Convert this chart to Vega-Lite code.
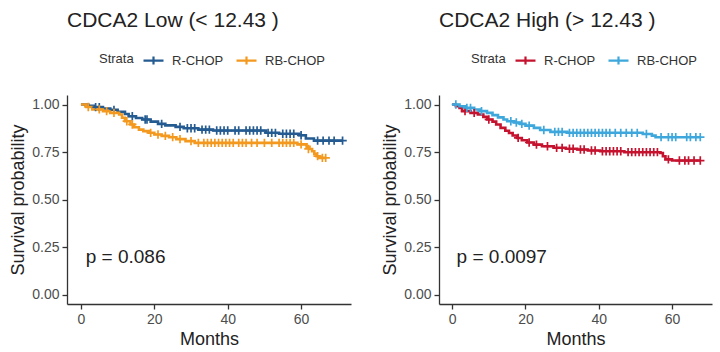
{
  "$schema": "https://vega.github.io/schema/vega-lite/v6.json",
  "padding": {"left": 9, "top": 10, "right": 2, "bottom": 0},
  "background": "white",
  "config": {
    "view": {"stroke": null},
    "font": "Liberation Sans",
    "axis": {"domainColor": "#333333", "domainWidth": 1.3, "tickColor": "#333333", "tickWidth": 1.3, "tickSize": 5, "labelFontSize": 14, "labelColor": "#4d4d4d", "titleFontSize": 18, "titleFontWeight": "normal", "titleColor": "#222222", "grid": false, "labelPadding": 3, "titlePadding": 4},
    "title": {"fontSize": 21, "fontWeight": "normal", "anchor": "start", "frame": "group", "color": "#222222"},
    "concat": {"spacing": 30},
    "legend": {"orient": "none", "direction": "horizontal", "titleOrient": "left", "titleFontSize": 13, "titleFontWeight": "normal", "titleColor": "#333333", "labelFontSize": 13, "labelColor": "#333333", "symbolType": "M-1,0H1M0,-0.4V0.4", "symbolSize": 400, "symbolStrokeWidth": 2.2, "symbolFillColor": "transparent", "labelOffset": 7, "columnPadding": 8, "titlePadding": 8, "legendX": 32, "legendY": -46}
  },
  "datasets": {
    "low": [
      {"g":"R-CHOP","t":0,"s":1.0,"c":0},{"g":"R-CHOP","t":2,"s":0.993,"c":0},{"g":"R-CHOP","t":3.5,"s":0.986,"c":0},{"g":"R-CHOP","t":6,"s":0.979,"c":0},{"g":"R-CHOP","t":8,"s":0.972,"c":0},{"g":"R-CHOP","t":10,"s":0.961,"c":0},{"g":"R-CHOP","t":12,"s":0.95,"c":0},{"g":"R-CHOP","t":13,"s":0.938,"c":0},{"g":"R-CHOP","t":15,"s":0.929,"c":0},{"g":"R-CHOP","t":16.7,"s":0.921,"c":0},{"g":"R-CHOP","t":19,"s":0.91,"c":0},{"g":"R-CHOP","t":21,"s":0.898,"c":0},{"g":"R-CHOP","t":23,"s":0.89,"c":0},{"g":"R-CHOP","t":25.8,"s":0.882,"c":0},{"g":"R-CHOP","t":28,"s":0.875,"c":0},{"g":"R-CHOP","t":32,"s":0.868,"c":0},{"g":"R-CHOP","t":36,"s":0.863,"c":0},{"g":"R-CHOP","t":50.4,"s":0.851,"c":0},{"g":"R-CHOP","t":54,"s":0.846,"c":0},{"g":"R-CHOP","t":59.5,"s":0.838,"c":0},{"g":"R-CHOP","t":61.3,"s":0.821,"c":0},{"g":"R-CHOP","t":63.5,"s":0.81,"c":0},{"g":"R-CHOP","t":71.3,"s":0.81,"c":0},
      {"g":"R-CHOP","t":4,"s":0.986,"c":1},{"g":"R-CHOP","t":5,"s":0.986,"c":1},{"g":"R-CHOP","t":9,"s":0.972,"c":1},{"g":"R-CHOP","t":14,"s":0.938,"c":1},{"g":"R-CHOP","t":17.5,"s":0.921,"c":1},{"g":"R-CHOP","t":18,"s":0.921,"c":1},{"g":"R-CHOP","t":22,"s":0.898,"c":1},{"g":"R-CHOP","t":27,"s":0.882,"c":1},{"g":"R-CHOP","t":29,"s":0.875,"c":1},{"g":"R-CHOP","t":30,"s":0.875,"c":1},{"g":"R-CHOP","t":31,"s":0.875,"c":1},{"g":"R-CHOP","t":33,"s":0.868,"c":1},{"g":"R-CHOP","t":34,"s":0.868,"c":1},{"g":"R-CHOP","t":35,"s":0.868,"c":1},{"g":"R-CHOP","t":37,"s":0.863,"c":1},{"g":"R-CHOP","t":38,"s":0.863,"c":1},{"g":"R-CHOP","t":39,"s":0.863,"c":1},{"g":"R-CHOP","t":40,"s":0.863,"c":1},{"g":"R-CHOP","t":42,"s":0.863,"c":1},{"g":"R-CHOP","t":43,"s":0.863,"c":1},{"g":"R-CHOP","t":45,"s":0.863,"c":1},{"g":"R-CHOP","t":46,"s":0.863,"c":1},{"g":"R-CHOP","t":47,"s":0.863,"c":1},{"g":"R-CHOP","t":48,"s":0.863,"c":1},{"g":"R-CHOP","t":49,"s":0.863,"c":1},{"g":"R-CHOP","t":51,"s":0.851,"c":1},{"g":"R-CHOP","t":52,"s":0.851,"c":1},{"g":"R-CHOP","t":53,"s":0.851,"c":1},{"g":"R-CHOP","t":55,"s":0.846,"c":1},{"g":"R-CHOP","t":56,"s":0.846,"c":1},{"g":"R-CHOP","t":57,"s":0.846,"c":1},{"g":"R-CHOP","t":58,"s":0.846,"c":1},{"g":"R-CHOP","t":60,"s":0.838,"c":1},{"g":"R-CHOP","t":64.5,"s":0.81,"c":1},{"g":"R-CHOP","t":66,"s":0.81,"c":1},{"g":"R-CHOP","t":67.6,"s":0.81,"c":1},{"g":"R-CHOP","t":69,"s":0.81,"c":1},{"g":"R-CHOP","t":71.3,"s":0.81,"c":1},
      {"g":"RB-CHOP","t":0,"s":1.0,"c":0},{"g":"RB-CHOP","t":1.5,"s":0.987,"c":0},{"g":"RB-CHOP","t":3.1,"s":0.974,"c":0},{"g":"RB-CHOP","t":6,"s":0.965,"c":0},{"g":"RB-CHOP","t":8,"s":0.956,"c":0},{"g":"RB-CHOP","t":10.4,"s":0.947,"c":0},{"g":"RB-CHOP","t":11.2,"s":0.93,"c":0},{"g":"RB-CHOP","t":12,"s":0.912,"c":0},{"g":"RB-CHOP","t":13.5,"s":0.895,"c":0},{"g":"RB-CHOP","t":14.5,"s":0.88,"c":0},{"g":"RB-CHOP","t":15.8,"s":0.868,"c":0},{"g":"RB-CHOP","t":17,"s":0.86,"c":0},{"g":"RB-CHOP","t":18.5,"s":0.851,"c":0},{"g":"RB-CHOP","t":20,"s":0.842,"c":0},{"g":"RB-CHOP","t":22,"s":0.835,"c":0},{"g":"RB-CHOP","t":24,"s":0.828,"c":0},{"g":"RB-CHOP","t":26,"s":0.818,"c":0},{"g":"RB-CHOP","t":28.5,"s":0.807,"c":0},{"g":"RB-CHOP","t":31,"s":0.798,"c":0},{"g":"RB-CHOP","t":59,"s":0.79,"c":0},{"g":"RB-CHOP","t":61.5,"s":0.778,"c":0},{"g":"RB-CHOP","t":62.3,"s":0.766,"c":0},{"g":"RB-CHOP","t":63,"s":0.754,"c":0},{"g":"RB-CHOP","t":63.6,"s":0.74,"c":0},{"g":"RB-CHOP","t":64.2,"s":0.728,"c":0},{"g":"RB-CHOP","t":65,"s":0.719,"c":0},{"g":"RB-CHOP","t":66.7,"s":0.719,"c":0},
      {"g":"RB-CHOP","t":2,"s":0.987,"c":1},{"g":"RB-CHOP","t":5,"s":0.974,"c":1},{"g":"RB-CHOP","t":7,"s":0.965,"c":1},{"g":"RB-CHOP","t":9,"s":0.956,"c":1},{"g":"RB-CHOP","t":12.5,"s":0.912,"c":1},{"g":"RB-CHOP","t":14,"s":0.895,"c":1},{"g":"RB-CHOP","t":19,"s":0.851,"c":1},{"g":"RB-CHOP","t":21,"s":0.842,"c":1},{"g":"RB-CHOP","t":23,"s":0.835,"c":1},{"g":"RB-CHOP","t":25,"s":0.828,"c":1},{"g":"RB-CHOP","t":27,"s":0.818,"c":1},{"g":"RB-CHOP","t":30,"s":0.807,"c":1},{"g":"RB-CHOP","t":32,"s":0.798,"c":1},{"g":"RB-CHOP","t":33.5,"s":0.798,"c":1},{"g":"RB-CHOP","t":34.5,"s":0.798,"c":1},{"g":"RB-CHOP","t":35.5,"s":0.798,"c":1},{"g":"RB-CHOP","t":36.5,"s":0.798,"c":1},{"g":"RB-CHOP","t":37.5,"s":0.798,"c":1},{"g":"RB-CHOP","t":38.5,"s":0.798,"c":1},{"g":"RB-CHOP","t":39.5,"s":0.798,"c":1},{"g":"RB-CHOP","t":40.5,"s":0.798,"c":1},{"g":"RB-CHOP","t":41.5,"s":0.798,"c":1},{"g":"RB-CHOP","t":43,"s":0.798,"c":1},{"g":"RB-CHOP","t":44,"s":0.798,"c":1},{"g":"RB-CHOP","t":45,"s":0.798,"c":1},{"g":"RB-CHOP","t":46.5,"s":0.798,"c":1},{"g":"RB-CHOP","t":48,"s":0.798,"c":1},{"g":"RB-CHOP","t":50,"s":0.798,"c":1},{"g":"RB-CHOP","t":52,"s":0.798,"c":1},{"g":"RB-CHOP","t":54,"s":0.798,"c":1},{"g":"RB-CHOP","t":55,"s":0.798,"c":1},{"g":"RB-CHOP","t":56,"s":0.798,"c":1},{"g":"RB-CHOP","t":57,"s":0.798,"c":1},{"g":"RB-CHOP","t":58,"s":0.798,"c":1},{"g":"RB-CHOP","t":60,"s":0.79,"c":1},{"g":"RB-CHOP","t":62,"s":0.766,"c":1},{"g":"RB-CHOP","t":64.5,"s":0.728,"c":1},{"g":"RB-CHOP","t":65.8,"s":0.719,"c":1},{"g":"RB-CHOP","t":66.7,"s":0.719,"c":1}
    ],
    "high": [
      {"g":"R-CHOP","t":0,"s":1.0,"c":0},{"g":"R-CHOP","t":1,"s":0.991,"c":0},{"g":"R-CHOP","t":2,"s":0.982,"c":0},{"g":"R-CHOP","t":2.7,"s":0.965,"c":0},{"g":"R-CHOP","t":5,"s":0.956,"c":0},{"g":"R-CHOP","t":7,"s":0.947,"c":0},{"g":"R-CHOP","t":8.5,"s":0.935,"c":0},{"g":"R-CHOP","t":9.5,"s":0.921,"c":0},{"g":"R-CHOP","t":11,"s":0.91,"c":0},{"g":"R-CHOP","t":12,"s":0.895,"c":0},{"g":"R-CHOP","t":13.2,"s":0.877,"c":0},{"g":"R-CHOP","t":14.5,"s":0.862,"c":0},{"g":"R-CHOP","t":15.5,"s":0.85,"c":0},{"g":"R-CHOP","t":16.5,"s":0.837,"c":0},{"g":"R-CHOP","t":17.7,"s":0.824,"c":0},{"g":"R-CHOP","t":19,"s":0.812,"c":0},{"g":"R-CHOP","t":20.5,"s":0.8,"c":0},{"g":"R-CHOP","t":22.3,"s":0.789,"c":0},{"g":"R-CHOP","t":24.5,"s":0.78,"c":0},{"g":"R-CHOP","t":27.7,"s":0.772,"c":0},{"g":"R-CHOP","t":31,"s":0.767,"c":0},{"g":"R-CHOP","t":34.1,"s":0.763,"c":0},{"g":"R-CHOP","t":37,"s":0.758,"c":0},{"g":"R-CHOP","t":40.4,"s":0.754,"c":0},{"g":"R-CHOP","t":47,"s":0.749,"c":0},{"g":"R-CHOP","t":56.8,"s":0.745,"c":0},{"g":"R-CHOP","t":57.5,"s":0.728,"c":0},{"g":"R-CHOP","t":58.2,"s":0.711,"c":0},{"g":"R-CHOP","t":60,"s":0.705,"c":0},{"g":"R-CHOP","t":67.7,"s":0.705,"c":0},
      {"g":"R-CHOP","t":3.5,"s":0.965,"c":1},{"g":"R-CHOP","t":6,"s":0.956,"c":1},{"g":"R-CHOP","t":10,"s":0.921,"c":1},{"g":"R-CHOP","t":18,"s":0.824,"c":1},{"g":"R-CHOP","t":21,"s":0.8,"c":1},{"g":"R-CHOP","t":23,"s":0.789,"c":1},{"g":"R-CHOP","t":26,"s":0.78,"c":1},{"g":"R-CHOP","t":28.5,"s":0.772,"c":1},{"g":"R-CHOP","t":30,"s":0.772,"c":1},{"g":"R-CHOP","t":32,"s":0.767,"c":1},{"g":"R-CHOP","t":33,"s":0.767,"c":1},{"g":"R-CHOP","t":35,"s":0.763,"c":1},{"g":"R-CHOP","t":36,"s":0.763,"c":1},{"g":"R-CHOP","t":38,"s":0.758,"c":1},{"g":"R-CHOP","t":39,"s":0.758,"c":1},{"g":"R-CHOP","t":41,"s":0.754,"c":1},{"g":"R-CHOP","t":42,"s":0.754,"c":1},{"g":"R-CHOP","t":43,"s":0.754,"c":1},{"g":"R-CHOP","t":44,"s":0.754,"c":1},{"g":"R-CHOP","t":45,"s":0.754,"c":1},{"g":"R-CHOP","t":46,"s":0.754,"c":1},{"g":"R-CHOP","t":48,"s":0.749,"c":1},{"g":"R-CHOP","t":49,"s":0.749,"c":1},{"g":"R-CHOP","t":50,"s":0.749,"c":1},{"g":"R-CHOP","t":51,"s":0.749,"c":1},{"g":"R-CHOP","t":52,"s":0.749,"c":1},{"g":"R-CHOP","t":53,"s":0.749,"c":1},{"g":"R-CHOP","t":54,"s":0.749,"c":1},{"g":"R-CHOP","t":55,"s":0.749,"c":1},{"g":"R-CHOP","t":56,"s":0.749,"c":1},{"g":"R-CHOP","t":59,"s":0.711,"c":1},{"g":"R-CHOP","t":62,"s":0.705,"c":1},{"g":"R-CHOP","t":63.5,"s":0.705,"c":1},{"g":"R-CHOP","t":64.5,"s":0.705,"c":1},{"g":"R-CHOP","t":66,"s":0.705,"c":1},{"g":"R-CHOP","t":67.7,"s":0.705,"c":1},
      {"g":"RB-CHOP","t":0,"s":1.0,"c":0},{"g":"RB-CHOP","t":2,"s":0.991,"c":0},{"g":"RB-CHOP","t":3.5,"s":0.982,"c":0},{"g":"RB-CHOP","t":6,"s":0.974,"c":0},{"g":"RB-CHOP","t":7.5,"s":0.965,"c":0},{"g":"RB-CHOP","t":9.5,"s":0.956,"c":0},{"g":"RB-CHOP","t":11,"s":0.944,"c":0},{"g":"RB-CHOP","t":12.5,"s":0.932,"c":0},{"g":"RB-CHOP","t":14,"s":0.921,"c":0},{"g":"RB-CHOP","t":15,"s":0.912,"c":0},{"g":"RB-CHOP","t":17,"s":0.905,"c":0},{"g":"RB-CHOP","t":18.6,"s":0.898,"c":0},{"g":"RB-CHOP","t":20,"s":0.889,"c":0},{"g":"RB-CHOP","t":22.3,"s":0.877,"c":0},{"g":"RB-CHOP","t":24,"s":0.866,"c":0},{"g":"RB-CHOP","t":26.8,"s":0.856,"c":0},{"g":"RB-CHOP","t":31.4,"s":0.851,"c":0},{"g":"RB-CHOP","t":52,"s":0.845,"c":0},{"g":"RB-CHOP","t":54.5,"s":0.836,"c":0},{"g":"RB-CHOP","t":55.5,"s":0.828,"c":0},{"g":"RB-CHOP","t":67.7,"s":0.828,"c":0},
      {"g":"RB-CHOP","t":1,"s":1.0,"c":1},{"g":"RB-CHOP","t":4,"s":0.982,"c":1},{"g":"RB-CHOP","t":5,"s":0.982,"c":1},{"g":"RB-CHOP","t":8,"s":0.965,"c":1},{"g":"RB-CHOP","t":16,"s":0.912,"c":1},{"g":"RB-CHOP","t":17.5,"s":0.905,"c":1},{"g":"RB-CHOP","t":19,"s":0.898,"c":1},{"g":"RB-CHOP","t":21,"s":0.889,"c":1},{"g":"RB-CHOP","t":25,"s":0.866,"c":1},{"g":"RB-CHOP","t":28,"s":0.856,"c":1},{"g":"RB-CHOP","t":29,"s":0.856,"c":1},{"g":"RB-CHOP","t":30,"s":0.856,"c":1},{"g":"RB-CHOP","t":32,"s":0.851,"c":1},{"g":"RB-CHOP","t":33,"s":0.851,"c":1},{"g":"RB-CHOP","t":34,"s":0.851,"c":1},{"g":"RB-CHOP","t":35,"s":0.851,"c":1},{"g":"RB-CHOP","t":36,"s":0.851,"c":1},{"g":"RB-CHOP","t":37,"s":0.851,"c":1},{"g":"RB-CHOP","t":38,"s":0.851,"c":1},{"g":"RB-CHOP","t":39,"s":0.851,"c":1},{"g":"RB-CHOP","t":40,"s":0.851,"c":1},{"g":"RB-CHOP","t":41,"s":0.851,"c":1},{"g":"RB-CHOP","t":42,"s":0.851,"c":1},{"g":"RB-CHOP","t":43,"s":0.851,"c":1},{"g":"RB-CHOP","t":44.5,"s":0.851,"c":1},{"g":"RB-CHOP","t":46,"s":0.851,"c":1},{"g":"RB-CHOP","t":47.5,"s":0.851,"c":1},{"g":"RB-CHOP","t":49,"s":0.851,"c":1},{"g":"RB-CHOP","t":50.5,"s":0.851,"c":1},{"g":"RB-CHOP","t":53,"s":0.845,"c":1},{"g":"RB-CHOP","t":57,"s":0.828,"c":1},{"g":"RB-CHOP","t":59,"s":0.828,"c":1},{"g":"RB-CHOP","t":60,"s":0.828,"c":1},{"g":"RB-CHOP","t":61,"s":0.828,"c":1},{"g":"RB-CHOP","t":64,"s":0.828,"c":1},{"g":"RB-CHOP","t":65,"s":0.828,"c":1},{"g":"RB-CHOP","t":66.5,"s":0.828,"c":1},{"g":"RB-CHOP","t":67.7,"s":0.828,"c":1}
    ]
  },
  "hconcat": [
    {
      "title": {"text": "CDCA2 Low (< 12.43 )", "offset": 18},
      "width": 284,
      "height": 209,
      "data": {"name": "low"},
      "encoding": {
        "x": {"field": "t", "type": "quantitative", "scale": {"domain": [-3.8, 73.6], "nice": false, "zero": false}, "axis": {"values": [0, 20, 40, 60], "title": "Months"}},
        "y": {"field": "s", "type": "quantitative", "scale": {"domain": [-0.05, 1.05], "nice": false, "zero": false}, "axis": {"values": [0, 0.25, 0.5, 0.75, 1], "format": ".2f", "title": "Survival probability"}},
        "color": {"field": "g", "type": "nominal", "scale": {"domain": ["R-CHOP", "RB-CHOP"], "range": ["#245B91", "#F4991F"]}, "legend": {"title": "Strata"}}
      },
      "layer": [
        {"transform": [{"filter": "datum.c == 0"}], "mark": {"type": "line", "interpolate": "step-after", "strokeWidth": 2.6}},
        {"transform": [{"filter": "datum.c == 1"}], "mark": {"type": "point", "shape": "M0,-1V1M-1,0H1", "filled": false, "size": 70, "strokeWidth": 1.7, "opacity": 1}},
        {"data": {"values": [{"label": "p = 0.086", "t": 1.3, "s": 0.2}]}, "mark": {"type": "text", "align": "left", "baseline": "middle", "fontSize": 19, "color": "#222222"}, "encoding": {"x": {"field": "t", "type": "quantitative"}, "y": {"field": "s", "type": "quantitative"}, "text": {"field": "label"}, "color": {"value": "#222222"}}}
      ]
    },
    {
      "title": {"text": "CDCA2 High (> 12.43 )", "offset": 18},
      "width": 273,
      "height": 209,
      "data": {"name": "high"},
      "encoding": {
        "x": {"field": "t", "type": "quantitative", "scale": {"domain": [-3.6, 70.9], "nice": false, "zero": false}, "axis": {"values": [0, 20, 40, 60], "title": "Months"}},
        "y": {"field": "s", "type": "quantitative", "scale": {"domain": [-0.05, 1.05], "nice": false, "zero": false}, "axis": {"values": [0, 0.25, 0.5, 0.75, 1], "format": ".2f", "title": "Survival probability"}},
        "color": {"field": "g", "type": "nominal", "scale": {"domain": ["R-CHOP", "RB-CHOP"], "range": ["#C5132F", "#3EA7DC"]}, "legend": {"title": "Strata"}}
      },
      "layer": [
        {"transform": [{"filter": "datum.c == 0"}], "mark": {"type": "line", "interpolate": "step-after", "strokeWidth": 2.6}},
        {"transform": [{"filter": "datum.c == 1"}], "mark": {"type": "point", "shape": "M0,-1V1M-1,0H1", "filled": false, "size": 70, "strokeWidth": 1.7, "opacity": 1}},
        {"data": {"values": [{"label": "p = 0.0097", "t": 1.2, "s": 0.2}]}, "mark": {"type": "text", "align": "left", "baseline": "middle", "fontSize": 19, "color": "#222222"}, "encoding": {"x": {"field": "t", "type": "quantitative"}, "y": {"field": "s", "type": "quantitative"}, "text": {"field": "label"}, "color": {"value": "#222222"}}}
      ]
    }
  ],
  "resolve": {"scale": {"color": "independent", "x": "independent", "y": "independent"}, "legend": {"color": "independent"}}
}
